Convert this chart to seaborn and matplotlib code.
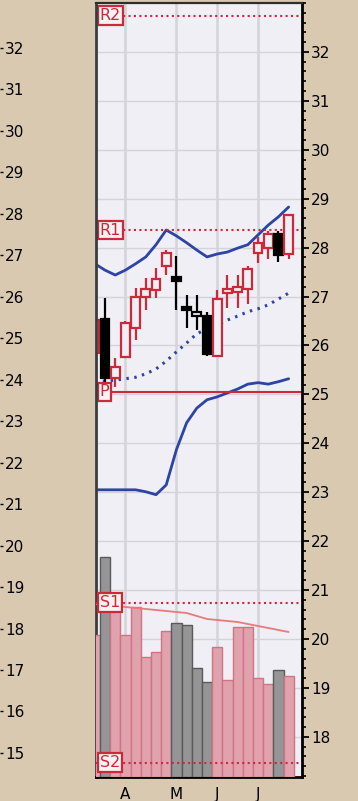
import matplotlib
matplotlib.use("Agg")
import matplotlib.pyplot as plt
from matplotlib.transforms import blended_transform_factory
from matplotlib.ticker import FixedLocator, MultipleLocator, NullFormatter
import numpy as np
import pandas as pd
import seaborn as sns

# ---- weekly price data -------------------------------------------------
weeks = list(range(20))
opens = [25.85, 26.54, 25.34, 25.77, 26.36, 26.99, 27.14, 27.63, 27.40, 26.79,
         26.60, 26.60, 25.79, 27.07, 27.10, 27.16, 27.89, 27.99, 28.28, 27.87]
highs = [26.60, 26.97, 25.75, 26.50, 27.18, 27.38, 27.59, 27.95, 27.83, 27.03,
         27.03, 26.69, 27.14, 27.44, 27.44, 27.63, 28.22, 28.34, 28.34, 28.67]
lows = [25.80, 25.20, 25.15, 25.75, 26.11, 26.73, 26.97, 27.44, 26.73, 26.36,
        26.32, 25.79, 25.77, 26.77, 26.77, 26.85, 27.69, 27.77, 27.71, 27.77]
closes = [26.52, 25.34, 25.56, 26.46, 26.99, 27.16, 27.36, 27.89, 27.32, 26.73,
          26.69, 25.83, 26.95, 27.16, 27.20, 27.57, 28.10, 28.28, 27.85, 28.67]

# Bollinger bands
bb_upper = [27.67, 27.54, 27.44, 27.54, 27.67, 27.81, 28.06, 28.36, 28.24, 28.10,
            27.95, 27.81, 27.87, 27.91, 27.99, 28.06, 28.26, 28.46, 28.63, 28.83]
bb_middle = [25.26, 25.27, 25.29, 25.32, 25.35, 25.42, 25.52, 25.68, 25.87, 26.05,
             26.24, 26.34, 26.42, 26.52, 26.60, 26.69, 26.75, 26.83, 26.95, 27.07]
bb_lower = [23.05, 23.05, 23.05, 23.05, 23.05, 23.01, 22.95, 23.15, 23.87, 24.42,
            24.72, 24.89, 24.95, 25.03, 25.11, 25.21, 25.24, 25.21, 25.26, 25.32]

# volume (millions) and its moving average
volume = [7.10, 11.00, 8.50, 7.10, 8.50, 6.00, 6.25, 7.30, 7.70, 7.60,
          5.45, 4.75, 6.50, 4.85, 7.50, 7.50, 4.95, 4.65, 5.35, 5.05]
volume_ma = [8.65, 8.60, 8.55, 8.50, 8.45, 8.40, 8.35, 8.30, 8.25, 8.20,
             8.05, 7.90, 7.85, 7.80, 7.75, 7.65, 7.55, 7.45, 7.35, 7.25]

# pivot levels
pivot_names = ["R2", "R1", "P", "S1", "S2"]
pivot_values = [32.74, 28.36, 25.05, 20.74, 17.47]

# x axis months
month_pos = [3, 8, 12, 16]
month_labels = ["A", "M", "J", "J"]

# ---- styling -----------------------------------------------------------
TAN = "#d9c9b0"
PLOT_BG = "#efeff5"
RED = "#cc2a3a"
BLUE = "#2c44a6"
GRID = "#d3d3d8"

sns.set_style("white")
plt.rcParams["font.family"] = ["DejaVu Sans"]

W, H = 358, 801
L, R, T, B = 96.3, 302.0, 3.0, 777.0
rect = [L / W, (H - B) / H, (R - L) / W, (B - T) / H]

fig = plt.figure(figsize=(W / 100, H / 100), dpi=100)
fig.patch.set_facecolor(TAN)

ax = fig.add_axes(rect)
ax.set_facecolor(PLOT_BG)
ax2 = ax.twinx()
ax.set_zorder(1)
ax2.set_zorder(2)
ax2.patch.set_visible(False)

ax.set_xlim(0.147, 20.31)
ax.set_ylim(17.18, 33.0)
ax2.set_ylim(0, 38.7)

# grid
for yv in range(18, 33):
    ax.axhline(yv, color=GRID, lw=1.0, zorder=0.5)
for xv in month_pos:
    ax.axvline(xv, color=GRID, lw=1.8, zorder=0.5)

df = pd.DataFrame({"week": weeks, "open": opens, "high": highs, "low": lows,
                   "close": closes, "upper": bb_upper, "middle": bb_middle,
                   "lower": bb_lower, "volume": volume, "vma": volume_ma})
prev_close = df["close"].shift(1)
df["up_week"] = (df["close"] >= prev_close) | prev_close.isna()
df["color"] = np.where(df["up_week"], RED, "black")

# Bollinger bands
sns.lineplot(data=df, x="week", y="upper", ax=ax, color=BLUE, lw=2.0, zorder=3)
sns.lineplot(data=df, x="week", y="lower", ax=ax, color=BLUE, lw=2.0, zorder=3)
sns.lineplot(data=df, x="week", y="middle", ax=ax, color=BLUE, lw=2.2,
             linestyle=(0, (0.8, 1.8)), zorder=3)

# candlesticks
body_lo = df[["open", "close"]].min(axis=1)
body_hi = df[["open", "close"]].max(axis=1)
ax.vlines(df["week"], df["low"], df["high"], colors=df["color"], lw=1.6, zorder=4)
hollow = df["close"] >= df["open"]
face = np.where(hollow, PLOT_BG, df["color"])
ax.bar(df["week"], body_hi - body_lo, bottom=body_lo, width=0.86,
       color=face, edgecolor=df["color"], linewidth=1.6, zorder=5)

# volume bars
vol_face = np.where(df["up_week"], "#e0a3ae", "#959595")
vol_edge = np.where(df["up_week"], "#d07484", "#5a5a5a")
ax2.bar(df["week"], df["volume"], width=1.0, color=vol_face,
        edgecolor=vol_edge, linewidth=1.0, zorder=2)
sns.lineplot(data=df, x="week", y="vma", ax=ax2, color="#ea7a7a", lw=1.3, zorder=3)

# pivot levels with tags
trans = blended_transform_factory(ax.transAxes, ax.transData)
for name, val in zip(pivot_names, pivot_values):
    target = ax2 if name.startswith("S") else ax
    ls = "-" if name == "P" else (0, (1.0, 1.6))
    target.plot([0, 1], [val, val], transform=trans, color=RED, lw=1.5,
                ls=ls, zorder=3.5)
    target.text(0.016, val, name, transform=trans, ha="left", va="center",
                fontsize=11.5, color=RED, zorder=7,
                bbox=dict(boxstyle="square,pad=0.12", fc="#f6f1f3", ec=RED, lw=1.6))

# axes / ticks
ax.set_xlabel("")
ax.set_ylabel("")
ax2.set_xlabel("")
ax2.set_ylabel("")
ax2.set_yticks([])
ax2.tick_params(which="both", right=False, labelright=False, left=False)
for sp in ax2.spines.values():
    sp.set_visible(False)

ax.yaxis.tick_right()
ax.yaxis.set_major_locator(FixedLocator(list(range(18, 33))))
ax.yaxis.set_minor_locator(MultipleLocator(0.2))
ax.yaxis.set_major_formatter(plt.FixedFormatter([str(v) for v in range(18, 33)]))
ax.tick_params(axis="y", which="major", direction="out", length=5, width=1.3,
               pad=1.5, labelsize=11, colors="black")
ax.tick_params(axis="y", which="minor", direction="out", length=3, width=1.2,
               colors="black")

ax.xaxis.set_major_locator(FixedLocator(month_pos))
ax.xaxis.set_major_formatter(plt.FixedFormatter(month_labels))
ax.xaxis.set_minor_locator(FixedLocator(weeks))
ax.tick_params(axis="x", which="major", direction="out", length=5, width=1.3,
               pad=2, labelsize=11, colors="black")
ax.tick_params(axis="x", which="minor", direction="out", length=3.5, width=1.2,
               colors="black")

ax.spines["left"].set_color("#3d3d3d")
ax.spines["left"].set_linewidth(2.0)
ax.spines["top"].set_color("#2e2e2e")
ax.spines["top"].set_linewidth(1.6)
ax.spines["right"].set_color("black")
ax.spines["right"].set_linewidth(2.0)
ax.spines["bottom"].set_color("black")
ax.spines["bottom"].set_linewidth(2.0)
for sp in ax.spines.values():
    sp.set_zorder(10)

# neighbouring price scale along the left edge
axl = fig.add_axes([-0.2, 0.0, 0.2, 1.0])
axl.patch.set_visible(False)
for sp in axl.spines.values():
    sp.set_visible(False)
axl.set_ylim(13.84, 33.157)
axl.set_xticks([])
axl.yaxis.tick_right()
axl.yaxis.set_major_locator(FixedLocator(list(range(15, 33))))
axl.yaxis.set_major_formatter(plt.FixedFormatter([str(v) for v in range(15, 33)]))
axl.tick_params(axis="y", direction="out", length=2.5, width=1.0, pad=1,
                labelsize=11, colors="black")

fig.savefig("out.png", dpi=100, facecolor=TAN)
